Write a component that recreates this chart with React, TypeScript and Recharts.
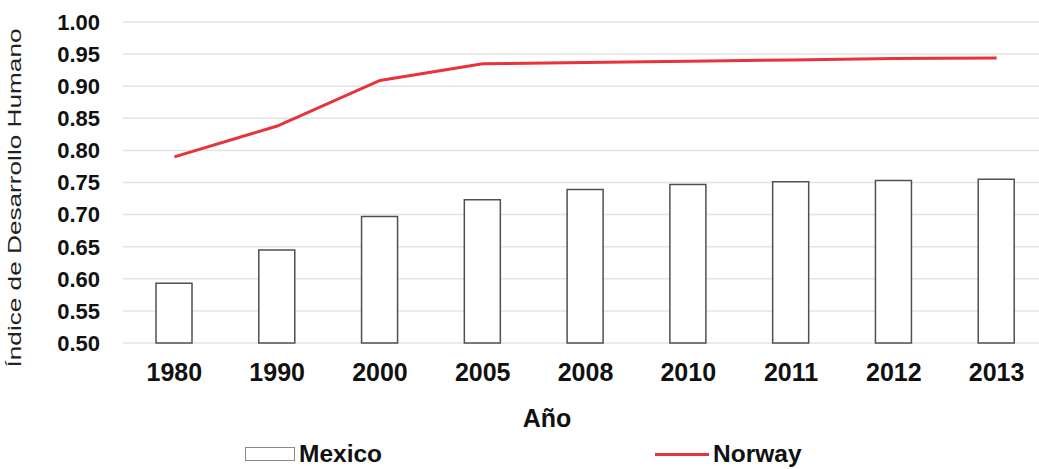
import {
  ComposedChart,
  Bar,
  Line,
  XAxis,
  YAxis,
  CartesianGrid,
  Legend,
} from "recharts";

const years = ["1980", "1990", "2000", "2005", "2008", "2010", "2011", "2012", "2013"];
const mexico = [0.593, 0.645, 0.697, 0.723, 0.739, 0.747, 0.751, 0.753, 0.755];
const norway = [0.79, 0.838, 0.909, 0.935, 0.937, 0.939, 0.941, 0.943, 0.944];
const yTicks = [0.5, 0.55, 0.6, 0.65, 0.7, 0.75, 0.8, 0.85, 0.9, 0.95, 1.0];

const data = years.map((year, i) => ({
  year,
  Mexico: mexico[i],
  Norway: norway[i],
}));

const font = "'Liberation Sans', Arial, sans-serif";
const red = "#e8323c";

// legend items sit at fixed spots under the plot, like the original
const legendLeft = [245, 655];

function LegendContent({ payload }: any) {
  return (
    <div style={{ position: "relative", height: 30, fontFamily: font }}>
      {(payload || []).map((p: any, i: number) => (
        <div
          key={p.value}
          style={{
            position: "absolute",
            left: legendLeft[i],
            top: 0,
            height: 30,
            display: "flex",
            alignItems: "center",
            gap: 4,
          }}
        >
          {p.value === "Mexico" ? (
            <div style={{ width: 48, height: 12, border: "1.5px solid #8a8a8a", background: "#fff" }} />
          ) : (
            <div style={{ width: 54, height: 3, background: red }} />
          )}
          <span style={{ fontSize: 24.5, fontWeight: 700, color: "#111" }}>{p.value}</span>
        </div>
      ))}
    </div>
  );
}

export default function App() {
  return (
    <div
      style={{
        position: "absolute",
        left: 0,
        top: 0,
        width: 1039,
        height: 469,
        overflow: "hidden",
        background: "#fff",
      }}
    >
      <ComposedChart
        width={1050}
        height={469}
        data={data}
        margin={{ top: 22, right: 2, bottom: 0, left: 0 }}
      >
        <CartesianGrid vertical={false} stroke="#e4e4e4" strokeWidth={1.5} />
        <XAxis
          dataKey="year"
          height={96}
          axisLine={false}
          tickLine={false}
          tickSize={0}
          tickMargin={20}
          tick={{ fontSize: 25, fontWeight: 700, fill: "#111", fontFamily: font }}
          label={{
            content: () => (
              <text
                x={547}
                y={427}
                textAnchor="middle"
                fontSize={25}
                fontWeight={700}
                fill="#111"
                fontFamily={font}
              >
                Año
              </text>
            ),
          }}
        />
        <YAxis
          width={123}
          domain={[0.5, 1]}
          ticks={yTicks}
          interval={0}
          axisLine={false}
          tickLine={false}
          tickSize={0}
          tickMargin={23}
          tickFormatter={(v: number) => v.toFixed(2)}
          tick={{ fontSize: 22, fontWeight: 700, fill: "#111", fontFamily: font }}
          label={{
            content: () => (
              <text
                x={21}
                y={198}
                transform="rotate(-90, 21, 198)"
                textAnchor="middle"
                fontSize={19}
                fill="#222"
                fontFamily={font}
                textLength={339}
                lengthAdjust="spacingAndGlyphs"
              >
                Índice de Desarrollo Humano
              </text>
            ),
          }}
        />
        <Bar
          dataKey="Mexico"
          fill="#fff"
          stroke="#505050"
          strokeWidth={1.5}
          barSize={36}
          isAnimationActive={false}
        />
        <Line
          dataKey="Norway"
          type="linear"
          stroke={red}
          strokeWidth={3}
          dot={false}
          activeDot={false}
          isAnimationActive={false}
        />
        <Legend verticalAlign="bottom" content={<LegendContent />} />
      </ComposedChart>
    </div>
  );
}
